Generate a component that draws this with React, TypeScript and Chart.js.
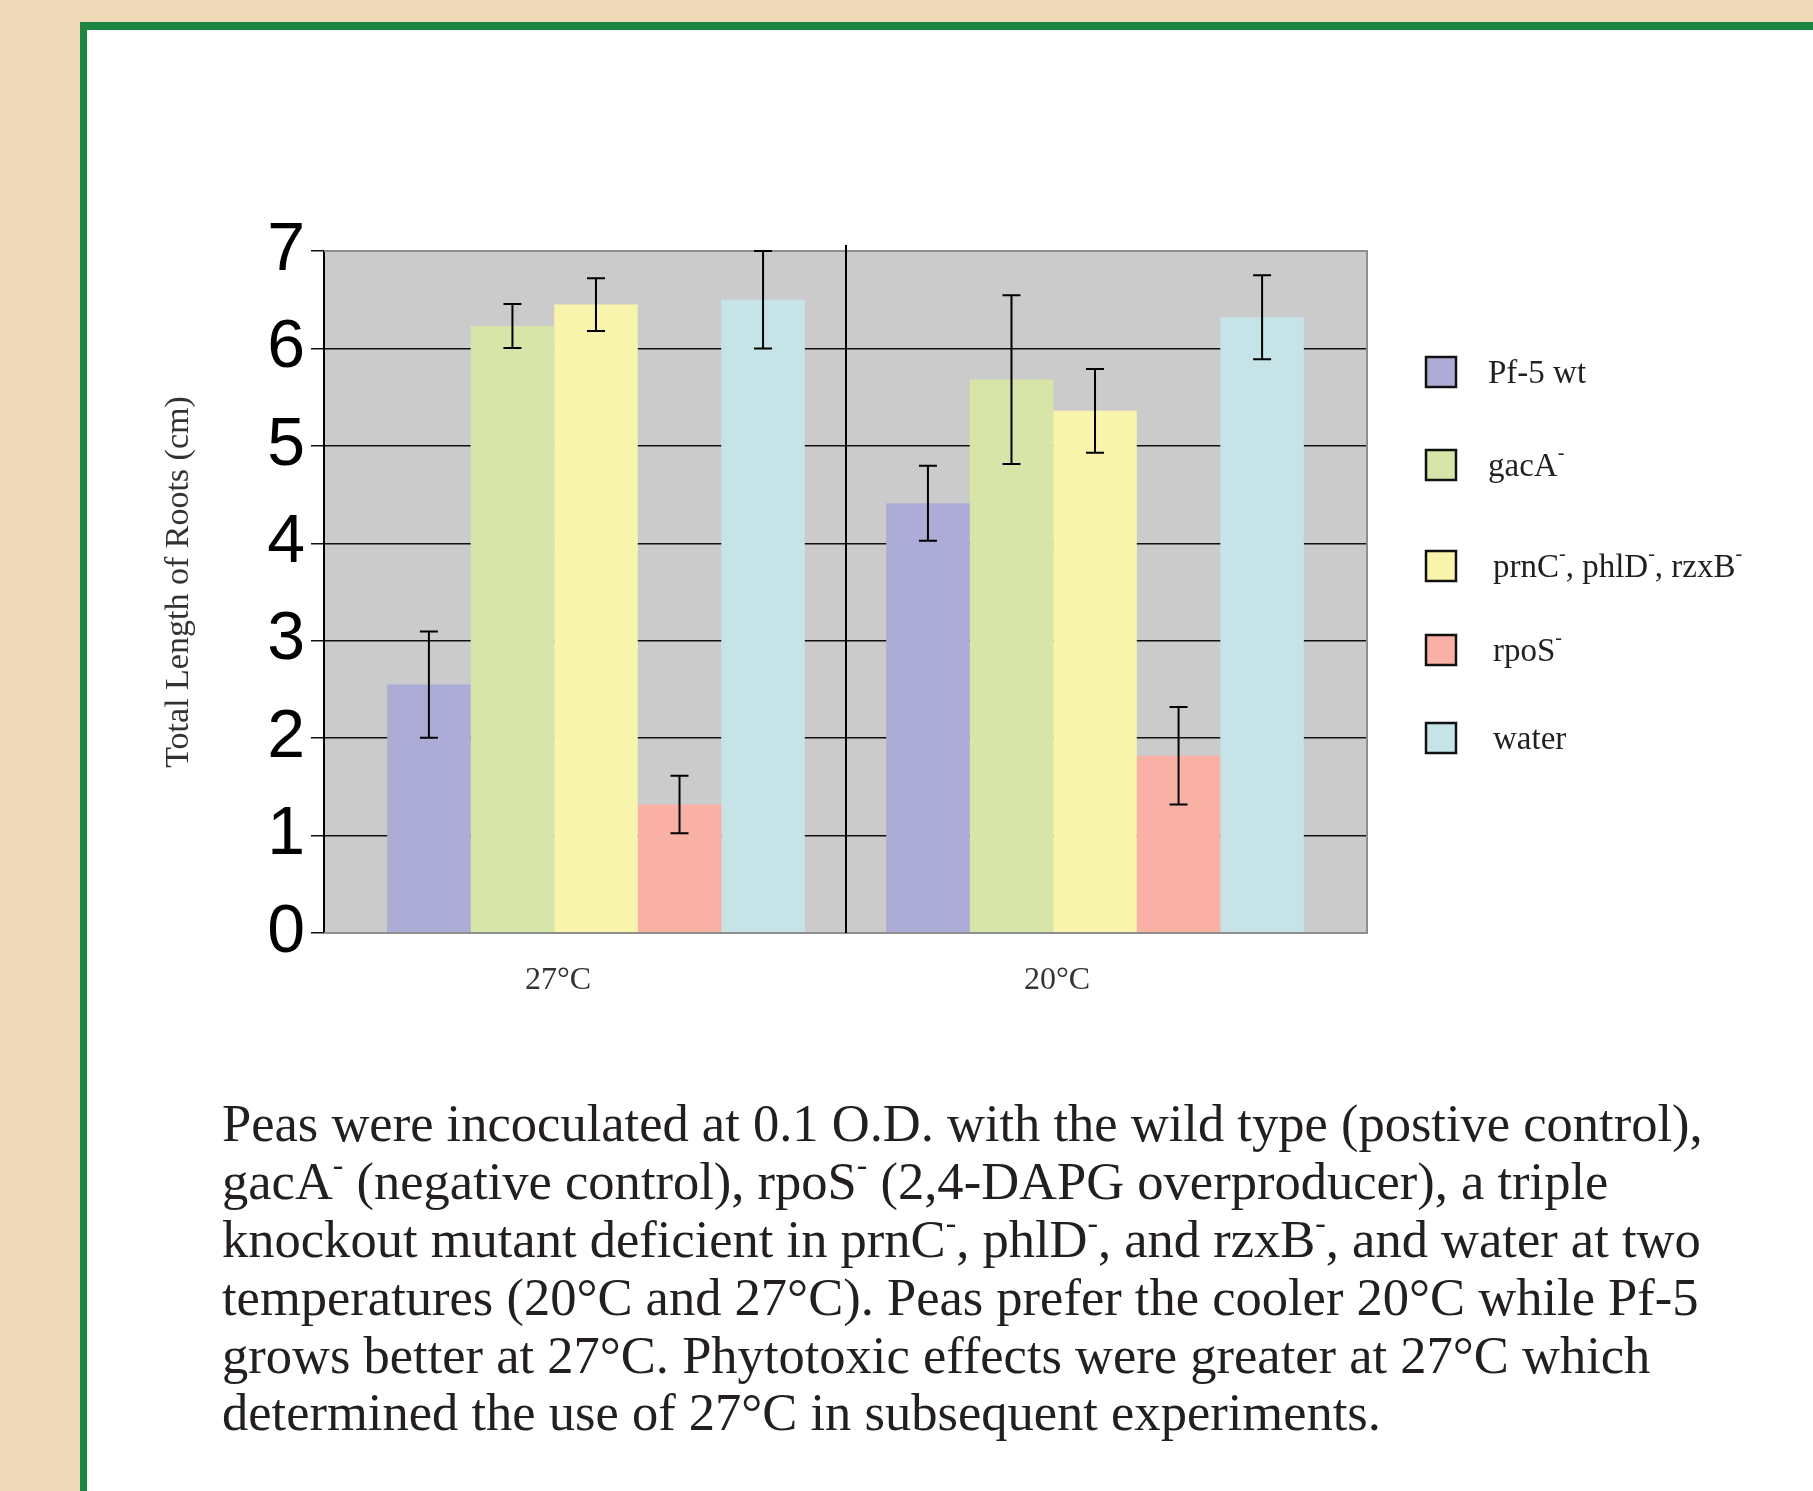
import React, { useEffect, useMemo, useRef } from 'react';
import { Chart, registerables } from 'chart.js';

Chart.register(...registerables);

// ---------- data ----------
const categories = ['27°C', '20°C'];
const seriesNames = ['Pf-5 wt', 'gacA⁻', 'prnC⁻, phlD⁻, rzxB⁻', 'rpoS⁻', 'water'];
const pf5Values = [2.55, 4.41];
const gacAValues = [6.23, 5.68];
const prnCValues = [6.45, 5.36];
const rpoSValues = [1.32, 1.82];
const waterValues = [6.5, 6.32];
const pf5Errors = [0.545, 0.385];
const gacAErrors = [0.225, 0.865];
const prnCErrors = [0.27, 0.43];
const rpoSErrors = [0.295, 0.5];
const waterErrors = [0.5, 0.43];
const seriesColors = ['#ACACD6', '#D7E6A8', '#F9F4AB', '#F9B1A5', '#C6E4E7'];
const yTickValues = [0, 1, 2, 3, 4, 5, 6, 7];
const yAxisTitle = 'Total Length of Roots (cm)';
const captionLines = [
  'Peas were incoculated at 0.1 O.D. with the wild type (postive control),',
  'gacA⁻ (negative control), rpoS⁻ (2,4-DAPG overproducer), a triple',
  'knockout mutant deficient in prnC⁻, phlD⁻, and rzxB⁻, and water at two',
  'temperatures (20°C and 27°C). Peas prefer the cooler 20°C while Pf-5',
  'grows better at 27°C. Phytotoxic effects were greater at 27°C which',
  'determined the use of 27°C in subsequent experiments.',
];

const seriesValues = [pf5Values, gacAValues, prnCValues, rpoSValues, waterValues];
const seriesErrors = [pf5Errors, gacAErrors, prnCErrors, rpoSErrors, waterErrors];

// legend row layout (pixel centres of the legend rows)
const legendRowY = [372, 465, 566, 650, 738];
const legendTextX = [1488, 1488, 1493, 1493, 1493];

const SERIF = '"Liberation Serif", "Times New Roman", serif';
const SANS = '"Liberation Sans", Arial, sans-serif';
const SUP = '⁻';

// ---------- plugins ----------
const plotBackground = {
  id: 'plotBackground',
  beforeDraw(chart: any) {
    const { ctx, chartArea: a } = chart;
    ctx.save();
    ctx.fillStyle = '#CBCBCB';
    ctx.fillRect(a.left, a.top, a.right - a.left, a.bottom - a.top);
    ctx.restore();
  },
};

const decorations = {
  id: 'decorations',
  afterDatasetsDraw(chart: any, _args: any, opts: any) {
    const { ctx, chartArea: a } = chart;
    const xs = chart.scales.x;
    const ys = chart.scales.y;
    ctx.save();
    // plot frame (top, right, bottom)
    ctx.strokeStyle = '#8E8E8E';
    ctx.lineWidth = 2;
    ctx.beginPath();
    ctx.moveTo(a.left, a.top);
    ctx.lineTo(a.right, a.top);
    ctx.lineTo(a.right, a.bottom);
    ctx.lineTo(a.left, a.bottom);
    ctx.stroke();
    // divider between groups
    const dx = Math.round(xs.getPixelForValue(0.5));
    ctx.strokeStyle = '#000';
    ctx.lineWidth = 2;
    ctx.beginPath();
    ctx.moveTo(dx, a.top - 6);
    ctx.lineTo(dx, a.bottom);
    ctx.stroke();
    // error bars
    ctx.strokeStyle = '#000';
    ctx.lineWidth = 2;
    chart.data.datasets.forEach((ds: any, i: number) => {
      const meta = chart.getDatasetMeta(i);
      meta.data.forEach((el: any, j: number) => {
        const v = ds.data[j].y;
        const e = ds.errors[j];
        const x = el.x;
        const yTop = ys.getPixelForValue(v + e);
        const yBot = ys.getPixelForValue(v - e);
        ctx.beginPath();
        ctx.moveTo(x, yTop);
        ctx.lineTo(x, yBot);
        ctx.moveTo(x - 9, yTop);
        ctx.lineTo(x + 9, yTop);
        ctx.moveTo(x - 9, yBot);
        ctx.lineTo(x + 9, yBot);
        ctx.stroke();
      });
    });
    // y axis title
    ctx.translate(opts.titleX, opts.titleY);
    ctx.rotate(-Math.PI / 2);
    ctx.font = `${opts.titleSize}px ${SERIF}`;
    ctx.fillStyle = '#333';
    ctx.textAlign = 'center';
    ctx.textBaseline = 'middle';
    ctx.fillText(opts.title, 0, 0);
    ctx.restore();
  },
};

function drawSupText(ctx: CanvasRenderingContext2D, text: string, x: number, baseline: number, size: number) {
  let cx = x;
  for (const ch of Array.from(text)) {
    if (ch === SUP) {
      ctx.font = `${Math.round(size * 0.6)}px ${SERIF}`;
      ctx.fillText('-', cx, baseline - size * 0.5);
      cx += ctx.measureText('-').width;
    } else {
      ctx.font = `${size}px ${SERIF}`;
      ctx.fillText(ch, cx, baseline);
      cx += ctx.measureText(ch).width;
    }
  }
}

const sideLegend = {
  id: 'sideLegend',
  afterDraw(chart: any, _args: any, opts: any) {
    const { ctx } = chart;
    ctx.save();
    chart.data.datasets.forEach((ds: any, i: number) => {
      const cy = opts.rowY[i];
      const half = opts.box / 2;
      ctx.fillStyle = ds.backgroundColor;
      ctx.fillRect(opts.boxX, cy - half, opts.box, opts.box);
      ctx.strokeStyle = '#111';
      ctx.lineWidth = 2.5;
      ctx.strokeRect(opts.boxX, cy - half, opts.box, opts.box);
      ctx.fillStyle = '#231F20';
      ctx.textBaseline = 'alphabetic';
      ctx.textAlign = 'left';
      drawSupText(ctx, ds.label, opts.textX[i], cy + opts.fontSize * 0.33, opts.fontSize);
    });
    ctx.restore();
  },
};

function fitFontSize(text: string, family: string, target: number): number {
  const c = document.createElement('canvas').getContext('2d');
  if (!c) return 48;
  c.font = `100px ${family}`;
  return (100 * target) / c.measureText(text).width;
}

function renderLine(text: string) {
  const parts = text.split(SUP);
  const out: any[] = [];
  parts.forEach((p, i) => {
    out.push(p);
    if (i < parts.length - 1) {
      out.push(
        <sup key={i} style={{ fontSize: '0.6em', lineHeight: 0, verticalAlign: '0.75em' }}>
          -
        </sup>
      );
    }
  });
  return out;
}

export default function App() {
  const canvasRef = useRef<HTMLCanvasElement>(null);

  useEffect(() => {
    const canvas = canvasRef.current;
    if (!canvas) return;
    const chart = new Chart(canvas, {
      type: 'bar',
      data: {
        datasets: seriesNames.map((name, i) => ({
          label: name,
          data: categories.map((_, j) => ({ x: j, y: seriesValues[i][j] })),
          errors: seriesErrors[i],
          backgroundColor: seriesColors[i],
          borderWidth: 0,
          categoryPercentage: 0.837,
          barPercentage: 1,
        })) as any,
      },
      options: {
        responsive: false,
        animation: false,
        devicePixelRatio: 1,
        layout: { padding: { left: 150, top: 251, right: 446, bottom: 478 } },
        plugins: {
          legend: { display: false },
          tooltip: { enabled: false },
          sideLegend: { boxX: 1426, box: 30, rowY: legendRowY, textX: legendTextX, fontSize: 33 },
          decorations: { title: yAxisTitle, titleX: 179, titleY: 582, titleSize: 34 },
        } as any,
        scales: {
          x: {
            type: 'linear',
            position: 'bottom',
            min: -0.545,
            max: 1.545,
            offset: false,
            grid: { display: false, drawTicks: false, tickLength: 0 },
            border: { display: false },
            afterBuildTicks: (s: any) => {
              s.ticks = categories.map((_, i) => ({ value: i }));
            },
            afterFit: (s: any) => {
              s.height = 80;
            },
            ticks: {
              autoSkip: false,
              maxRotation: 0,
              minRotation: 0,
              padding: 28,
              labelOffset: -38,
              color: '#333',
              font: { family: SERIF, size: 32 },
              callback: (v: any) => categories[v] ?? '',
            },
          },
          y: {
            type: 'linear',
            position: 'left',
            min: 0,
            max: 7,
            afterBuildTicks: (s: any) => {
              s.ticks = yTickValues.map((v) => ({ value: v }));
            },
            afterFit: (s: any) => {
              s.width = 174;
            },
            grid: { color: '#111', lineWidth: 1.5, tickLength: 13, drawTicks: true },
            border: { display: true, color: '#000', width: 2 },
            ticks: { padding: 6, color: '#000', font: { family: SANS, size: 68 } },
            title: { display: false },
          },
        } as any,
      },
      plugins: [plotBackground, decorations, sideLegend],
    } as any);
    return () => chart.destroy();
  }, []);

  const captionSize = useMemo(() => fitFontSize(captionLines[0], SERIF, 1481), []);
  const lineH = 57.8;
  const baselineInBox = (lineH - 1.107 * captionSize) / 2 + 0.891 * captionSize;
  const captionTop = 1142 - baselineInBox;

  return (
    <div
      style={{
        position: 'fixed',
        left: 0,
        top: 0,
        width: 1813,
        height: 1491,
        background: '#EED8B7',
        overflow: 'hidden',
      }}
    >
      <div
        style={{
          position: 'absolute',
          left: 80,
          top: 22,
          width: 1813,
          height: 1491,
          background: '#FFFFFF',
          borderTop: '8px solid #1B8541',
          borderLeft: '7px solid #1B8541',
        }}
      />
      <canvas
        ref={canvasRef}
        width={1813}
        height={1491}
        style={{ position: 'absolute', left: 0, top: 0, width: 1813, height: 1491, display: 'block' }}
      />
      <div
        style={{
          position: 'absolute',
          left: 222,
          top: captionTop,
          fontFamily: SERIF,
          fontSize: captionSize,
          lineHeight: `${lineH}px`,
          color: '#231F20',
          whiteSpace: 'nowrap',
        }}
      >
        {captionLines.map((l, i) => (
          <div key={i} style={{ height: lineH }}>
            {renderLine(l)}
          </div>
        ))}
      </div>
    </div>
  );
}
